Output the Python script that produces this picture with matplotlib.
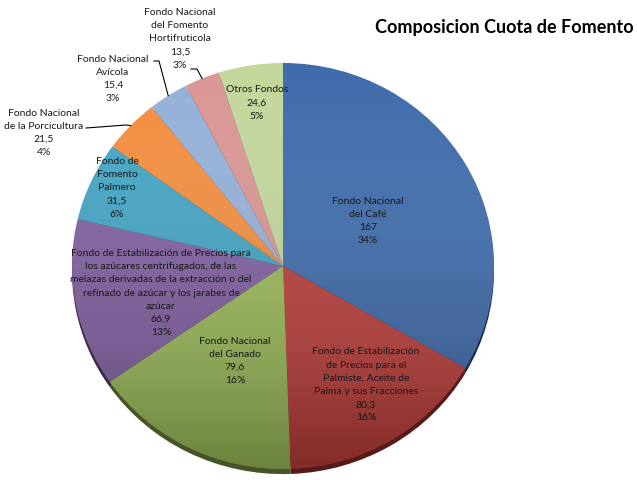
import numpy as np
import matplotlib
matplotlib.use("Agg")
import matplotlib.pyplot as plt
from matplotlib.patches import Ellipse

plt.rcParams['font.family'] = ['Lato', 'DejaVu Sans']

# data (clockwise from 12 o'clock)
names = [
    "Fondo Nacional\ndel Café",
    "Fondo de Estabilización\nde Precios para el\nPalmiste, Aceite de\nPalma y sus Fracciones",
    "Fondo Nacional\ndel Ganado",
    "Fondo de Estabilización de Precios para\nlos azúcares centrifugados, de las\nmelazas derivadas de la extracción o del\nrefinado de azúcar y los jarabes de\nazúcar",
    "Fondo de\nFomento\nPalmero",
    "Fondo Nacional\nde la Porcicultura",
    "Fondo Nacional\nAvícola",
    "Fondo Nacional\ndel Fomento\nHortifruticola",
    "Otros Fondos",
]
values = [167, 80.3, 79.6, 66.9, 31.5, 21.5, 15.4, 13.5, 24.6]
percents = [34, 16, 16, 13, 6, 4, 3, 3, 5]
colors = ["#3B69AB", "#BC3D3A", "#9BBB58", "#7F5EA0", "#40A3C2",
          "#F38C3C", "#93AFD8", "#D99492", "#C2D69A"]

# layout (pixels in the 637x480 picture)
W, H = 637, 480
CX, CY, RX, RY = 283, 266, 211, 203
label_px = [(368, 221), (366, 385), (235, 361), (161, 293), (117, 188),
            (44, 133), (113, 79), (180, 39), (257, 103)]
# leader lines: (start, elbow) for the labels outside the pie
leaders = {5: ((86, 128), (126, 125)),
           6: ((154, 61), (159, 61)),
           7: ((191, 69), (197, 69))}


def to_data(px, py):
    return (px - CX) / RX, (CY - py) / RY


def fmt(v):
    return f"{v:g}".replace(".", ",")


fig = plt.figure(figsize=(W / 100, H / 100), dpi=100)
ax = fig.add_axes([0, 0, 1, 1])

# dark rim under the pie
dark = [tuple(c * 0.45 for c in matplotlib.colors.to_rgb(col)) for col in colors]
ax.pie(values, colors=dark, startangle=90, counterclock=False,
       center=(0, -0.025), radius=1.0, wedgeprops=dict(linewidth=0))
wedges, _ = ax.pie(values, colors=colors, startangle=90, counterclock=False,
                   radius=1.0, wedgeprops=dict(linewidth=0))

# soft shading, darker towards the bottom
clip = Ellipse((0, 0), 2, 2, transform=ax.transData, facecolor="none", edgecolor="none")
ax.add_patch(clip)
grad = np.linspace(0, 1, 256).reshape(-1, 1) * np.ones((1, 2))
im = ax.imshow(grad, extent=(-1, 1, -1, 1), origin="upper", cmap="Greys",
               vmin=0, vmax=1, alpha=np.linspace(0.02, 0.3, 256).reshape(-1, 1) * np.ones((1, 2)),
               aspect="auto", zorder=3)
im.set_clip_path(clip)

ax.set_aspect("auto")
ax.set_xlim(-CX / RX, (W - CX) / RX)
ax.set_ylim((CY - H) / RY, CY / RY)
ax.axis("off")

for i, (name, v, p) in enumerate(zip(names, values, percents)):
    x, y = to_data(*label_px[i])
    ax.text(x, y, f"{name}\n{fmt(v)}\n{p}%", ha="center", va="center",
            fontsize=7.5, color="#1a1a1a", linespacing=1.6, zorder=5)

for i, (start, elbow) in leaders.items():
    w = wedges[i]
    mid = np.deg2rad((w.theta1 + w.theta2) / 2)
    xs = [to_data(*start)[0], to_data(*elbow)[0], np.cos(mid)]
    ys = [to_data(*start)[1], to_data(*elbow)[1], np.sin(mid)]
    ax.plot(xs, ys, color="black", lw=0.8, zorder=5)

fig.text(634 / W, 1 - 27 / H, "Composicion Cuota de Fomento", ha="right", va="center",
         fontsize=13, fontweight="bold", color="black")

fig.savefig("out.png", dpi=100)
